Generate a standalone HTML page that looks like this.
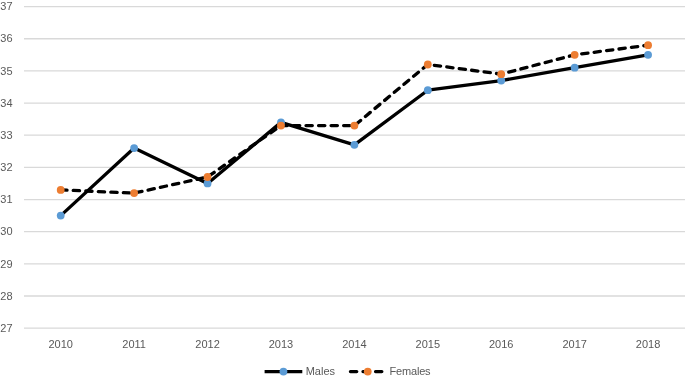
<!DOCTYPE html>
<html><head><meta charset="utf-8"><style>
html,body{margin:0;padding:0;background:#fff;}
body{width:685px;height:379px;overflow:hidden;}
svg{display:block;will-change:transform;font-family:"Liberation Sans",sans-serif;font-size:11px;fill:#595959;}
</style></head><body>
<svg width="685" height="379" viewBox="0 0 685 379">
<line x1="24.0" y1="328.15" x2="685" y2="328.15" stroke="#d9d9d9" stroke-width="1.3"/>
<line x1="24.0" y1="295.99" x2="685" y2="295.99" stroke="#d9d9d9" stroke-width="1.3"/>
<line x1="24.0" y1="263.84" x2="685" y2="263.84" stroke="#d9d9d9" stroke-width="1.3"/>
<line x1="24.0" y1="231.68" x2="685" y2="231.68" stroke="#d9d9d9" stroke-width="1.3"/>
<line x1="24.0" y1="199.53" x2="685" y2="199.53" stroke="#d9d9d9" stroke-width="1.3"/>
<line x1="24.0" y1="167.37" x2="685" y2="167.37" stroke="#d9d9d9" stroke-width="1.3"/>
<line x1="24.0" y1="135.22" x2="685" y2="135.22" stroke="#d9d9d9" stroke-width="1.3"/>
<line x1="24.0" y1="103.06" x2="685" y2="103.06" stroke="#d9d9d9" stroke-width="1.3"/>
<line x1="24.0" y1="70.91" x2="685" y2="70.91" stroke="#d9d9d9" stroke-width="1.3"/>
<line x1="24.0" y1="38.75" x2="685" y2="38.75" stroke="#d9d9d9" stroke-width="1.3"/>
<line x1="24.0" y1="6.60" x2="685" y2="6.60" stroke="#d9d9d9" stroke-width="1.3"/>
<text x="12.6" y="331.85" text-anchor="end">27</text>
<text x="12.6" y="299.69" text-anchor="end">28</text>
<text x="12.6" y="267.54" text-anchor="end">29</text>
<text x="12.6" y="235.38" text-anchor="end">30</text>
<text x="12.6" y="203.23" text-anchor="end">31</text>
<text x="12.6" y="171.07" text-anchor="end">32</text>
<text x="12.6" y="138.92" text-anchor="end">33</text>
<text x="12.6" y="106.76" text-anchor="end">34</text>
<text x="12.6" y="74.61" text-anchor="end">35</text>
<text x="12.6" y="42.45" text-anchor="end">36</text>
<text x="12.6" y="10.30" text-anchor="end">37</text>
<text x="60.71" y="347.6" text-anchor="middle">2010</text>
<text x="134.13" y="347.6" text-anchor="middle">2011</text>
<text x="207.55" y="347.6" text-anchor="middle">2012</text>
<text x="280.97" y="347.6" text-anchor="middle">2013</text>
<text x="354.39" y="347.6" text-anchor="middle">2014</text>
<text x="427.81" y="347.6" text-anchor="middle">2015</text>
<text x="501.23" y="347.6" text-anchor="middle">2016</text>
<text x="574.65" y="347.6" text-anchor="middle">2017</text>
<text x="648.07" y="347.6" text-anchor="middle">2018</text>
<polyline points="60.71,215.61 134.13,148.08 207.55,183.45 280.97,122.36 354.39,144.87 427.81,90.20 501.23,80.56 574.65,67.69 648.07,54.83" fill="none" stroke="#000" stroke-width="3.3" stroke-linejoin="round" stroke-linecap="round"/>
<polyline points="60.71,189.88 134.13,193.10 207.55,177.02 280.97,125.57 354.39,125.57 427.81,64.48 501.23,74.13 574.65,54.83 648.07,45.19" fill="none" stroke="#000" stroke-width="3.3" stroke-linejoin="round" stroke-linecap="round" stroke-dasharray="6.3 6.24" stroke-dashoffset="0"/>
<circle cx="60.71" cy="215.61" r="3.9" fill="#5b9bd5"/>
<circle cx="134.13" cy="148.08" r="3.9" fill="#5b9bd5"/>
<circle cx="207.55" cy="183.45" r="3.9" fill="#5b9bd5"/>
<circle cx="280.97" cy="122.36" r="3.9" fill="#5b9bd5"/>
<circle cx="354.39" cy="144.87" r="3.9" fill="#5b9bd5"/>
<circle cx="427.81" cy="90.20" r="3.9" fill="#5b9bd5"/>
<circle cx="501.23" cy="80.56" r="3.9" fill="#5b9bd5"/>
<circle cx="574.65" cy="67.69" r="3.9" fill="#5b9bd5"/>
<circle cx="648.07" cy="54.83" r="3.9" fill="#5b9bd5"/>
<circle cx="60.71" cy="189.88" r="3.9" fill="#ed7d31"/>
<circle cx="134.13" cy="193.10" r="3.9" fill="#ed7d31"/>
<circle cx="207.55" cy="177.02" r="3.9" fill="#ed7d31"/>
<circle cx="280.97" cy="125.57" r="3.9" fill="#ed7d31"/>
<circle cx="354.39" cy="125.57" r="3.9" fill="#ed7d31"/>
<circle cx="427.81" cy="64.48" r="3.9" fill="#ed7d31"/>
<circle cx="501.23" cy="74.13" r="3.9" fill="#ed7d31"/>
<circle cx="574.65" cy="54.83" r="3.9" fill="#ed7d31"/>
<circle cx="648.07" cy="45.19" r="3.9" fill="#ed7d31"/>
<line x1="264.6" y1="371.6" x2="302.3" y2="371.6" stroke="#000" stroke-width="3.3"/>
<circle cx="283.45" cy="371.6" r="3.9" fill="#5b9bd5"/>
<text x="305.7" y="374.8">Males</text>
<line x1="348.9" y1="371.6" x2="386.6" y2="371.6" stroke="#000" stroke-width="3.3" stroke-linecap="round" stroke-dasharray="6.3 6.24" stroke-dashoffset="-1.55"/>
<circle cx="367.75" cy="371.6" r="3.9" fill="#ed7d31"/>
<text x="389.6" y="374.9" letter-spacing="-0.2">Females</text>
</svg>
</body></html>
